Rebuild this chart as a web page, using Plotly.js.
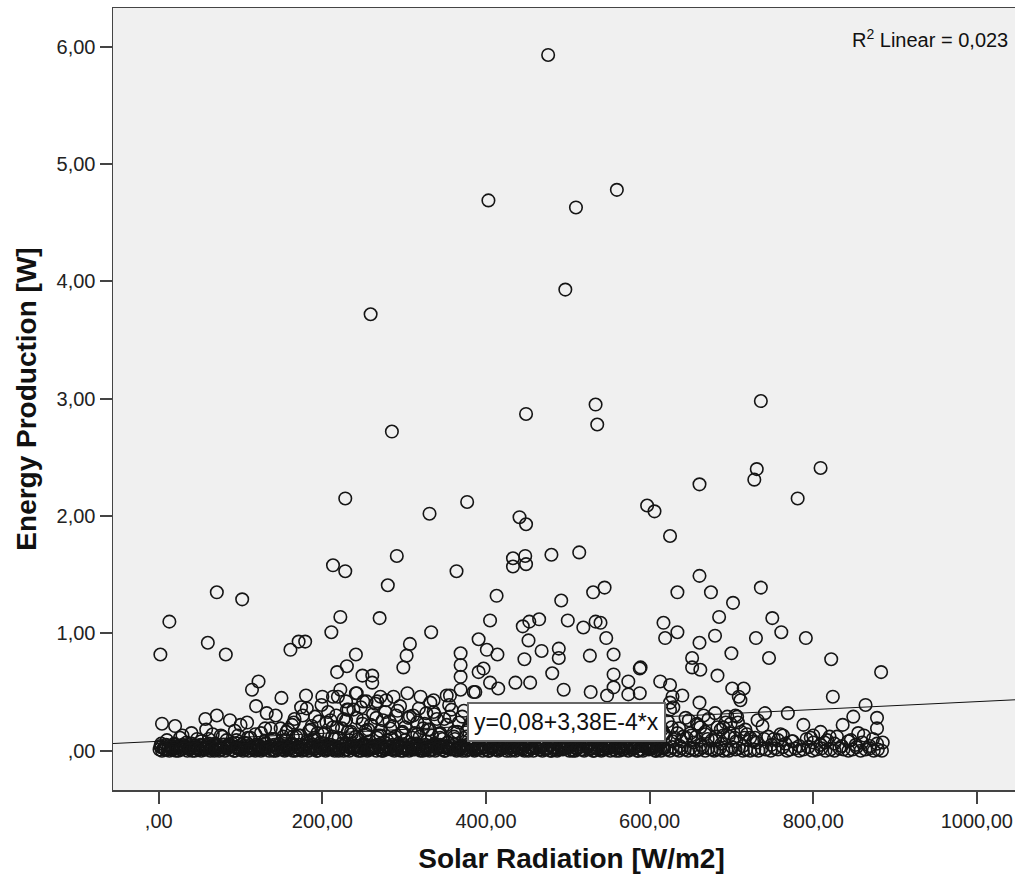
<!DOCTYPE html>
<html>
<head>
<meta charset="utf-8">
<script src="https://cdn.plot.ly/plotly-3.0.1.min.js"></script>
<style>
html,body{margin:0;padding:0;overflow:hidden;background:#fff;width:1015px;height:879px;}
#chart{width:1030px;height:879px;}
</style>
</head>
<body>
<div id="chart"></div>
<script>
// ---- Data (Solar Radiation [W/m2] vs Energy Production [W]) ----
const solarRadiation = [
476,560,403,510,497,259,736,534,449,536,285,809,731,728,661,781,228,377,331,441,
449,597,606,625,480,514,291,433,448,449,433,364,213,228,661,280,545,736,531,634,
675,71,413,102,492,702,222,270,685,750,465,453,13,405,500,534,540,617,445,519,
211,333,634,761,680,547,619,730,791,391,452,161,171,179,60,661,307,489,401,468,
2,82,241,414,556,369,700,303,527,652,746,489,447,822,369,230,299,589,652,397,
588,662,218,391,883,481,556,249,261,683,369,261,122,574,613,405,436,454,625,415,
701,715,114,222,495,369,528,387,556,241,304,588,574,548,180,356,640,150,200,213,
219,271,287,320,628,709,824,250,267,278,336,711,119,174,629,864,661,625,230,625,
132,143,741,769,680,705,336,57,71,87,108,4,20,29,165,191,210,229,250,266,
290,311,356,732,695,707,849,878,836,878,788,809,634,650,662,683,699,717,729,658,
100,130,149,885,242,254,332,352,385,232
];
const energyProduction = [
5.93,4.78,4.69,4.63,3.93,3.72,2.98,2.95,2.87,2.78,2.72,2.41,2.40,2.31,2.27,2.15,2.15,2.12,2.02,1.99,
1.93,2.09,2.04,1.83,1.67,1.69,1.66,1.64,1.66,1.59,1.57,1.53,1.58,1.53,1.49,1.41,1.39,1.39,1.35,1.35,
1.35,1.35,1.32,1.29,1.28,1.26,1.14,1.13,1.14,1.13,1.12,1.10,1.10,1.11,1.11,1.10,1.09,1.09,1.06,1.05,
1.01,1.01,1.01,1.01,0.98,0.96,0.96,0.96,0.96,0.95,0.94,0.86,0.93,0.93,0.92,0.92,0.91,0.87,0.86,0.85,
0.82,0.82,0.82,0.82,0.82,0.83,0.83,0.81,0.81,0.79,0.79,0.79,0.78,0.78,0.73,0.72,0.71,0.71,0.71,0.70,
0.70,0.69,0.67,0.67,0.67,0.66,0.65,0.64,0.64,0.64,0.63,0.58,0.59,0.59,0.59,0.58,0.58,0.58,0.56,0.53,
0.53,0.53,0.52,0.52,0.52,0.52,0.50,0.50,0.54,0.49,0.49,0.49,0.48,0.47,0.47,0.47,0.47,0.45,0.46,0.46,
0.46,0.46,0.46,0.46,0.46,0.46,0.46,0.42,0.42,0.43,0.43,0.43,0.38,0.37,0.37,0.39,0.41,0.41,0.35,0.35,
0.32,0.30,0.32,0.32,0.32,0.30,0.33,0.27,0.30,0.26,0.24,0.23,0.21,0.13,0.24,0.29,0.26,0.26,0.26,0.28,
0.30,0.30,0.29,0.26,0.29,0.29,0.29,0.28,0.22,0.19,0.22,0.16,0.15,0.15,0.20,0.20,0.23,0.18,0.11,0.23,
0.22,0.19,0.19,0.07,0.49,0.42,0.41,0.47,0.50,0.35
];

// dense band of near-zero production
const bandRadiation = [
1,4,7,11,13,17,20,24,27,31,35,38,41,45,49,52,56,59,63,67,
70,74,77,81,85,88,92,96,99,103,106,110,114,117,121,125,128,132,135,139,
143,146,150,154,157,161,164,168,172,175,179,183,186,190,193,197,201,204,208,212,
215,219,222,226,230,233,237,241,244,248,251,255,259,262,266,270,273,277,280,284,
288,291,295,299,302,306,309,313,317,320,324,328,331,335,338,342,346,349,353,357,
360,364,367,371,375,378,382,386,389,393,396,400,404,407,411,415,418,422,425,429,
433,436,440,444,447,451,454,458,462,465,469,473,476,480,483,487,491,494,498,502,
505,509,512,516,520,523,527,531,534,538,541,545,549,552,556,560,563,567,570,574,
578,581,585,589,592,596,599,603,607,610,614,618,621,625,628,632,636,639,643,647,
650,654,657,661,665,668,672,676,679,683,686,690,694,697,701,705,709,714,718,723,
728,733,737,742,748,753,757,763,768,772,778,783,788,794,799,804,810,815,821,826,
832,837,843,848,853,858,864,869,874,879,884
];
const bandEnergy = [
0.01,0.00,0.02,0.01,0.00,0.01,0.03,0.00,0.01,0.02,0.00,0.01,0.00,0.02,0.01,0.00,0.01,0.02,0.00,0.01,
0.02,0.00,0.01,0.00,0.03,0.01,0.00,0.02,0.01,0.00,0.01,0.00,0.02,0.01,0.03,0.00,0.01,0.02,0.00,0.01,
0.00,0.02,0.01,0.00,0.01,0.03,0.00,0.01,0.02,0.00,0.01,0.00,0.02,0.01,0.00,0.03,0.01,0.00,0.02,0.01,
0.00,0.01,0.02,0.00,0.01,0.00,0.03,0.01,0.00,0.02,0.01,0.00,0.01,0.02,0.00,0.01,0.00,0.02,0.03,0.01,
0.00,0.01,0.02,0.00,0.01,0.00,0.02,0.01,0.03,0.00,0.01,0.02,0.00,0.01,0.00,0.02,0.01,0.00,0.03,0.01,
0.02,0.00,0.01,0.00,0.02,0.01,0.03,0.00,0.01,0.02,0.00,0.01,0.00,0.02,0.01,0.00,0.01,0.03,0.00,0.02,
0.01,0.00,0.02,0.01,0.00,0.01,0.03,0.00,0.02,0.01,0.00,0.01,0.02,0.00,0.01,0.00,0.03,0.01,0.02,0.00,
0.01,0.00,0.02,0.01,0.00,0.03,0.01,0.00,0.02,0.01,0.00,0.01,0.02,0.00,0.01,0.03,0.00,0.01,0.02,0.00,
0.01,0.02,0.00,0.01,0.00,0.03,0.01,0.02,0.00,0.01,0.00,0.02,0.01,0.00,0.03,0.01,0.00,0.02,0.01,0.00,
0.02,0.01,0.00,0.01,0.03,0.00,0.02,0.01,0.00,0.01,0.02,0.00,0.01,0.00,0.03,0.01,0.02,0.00,0.01,0.00,
0.01,0.00,0.02,0.01,0.00,0.02,0.01,0.03,0.00,0.01,0.02,0.00,0.01,0.03,0.00,0.01,0.02,0.00,0.01,0.00,
0.02,0.01,0.00,0.01,0.03,0.00,0.01,0.02,0.00,0.01,0.00
];
const bandRadiation2 = [
2,6,9,15,19,22,26,29,33,37,40,43,47,51,54,58,61,65,69,72,
76,79,83,87,90,94,98,101,105,108,112,116,119,123,127,130,134,137,141,145,
148,152,156,159,163,166,170,174,177,181,185,188,192,195,199,203,206,210,214,217,
221,224,228,232,235,239,243,246,250,253,257,261,264,268,272,275,279,282,286,290,
293,297,301,304,308,311,315,319,322,326,330,333,337,340,344,348,351,355,359,362,
366,369,373,377,380,384,388,391,395,398,402,406,409,413,417,420,424,427,431,435,
438,442,446,449,453,456,460,464,467,471,475,478,482,485,489,493,496,500,504,507,
511,514,518,522,525,529,533,536,540,543,547,551,554,558,562,565,569,572,576,580,
583,587,591,594,598,601,605,609,612,616
];
const bandEnergy2 = [
0.04,0.02,0.05,0.03,0.06,0.02,0.04,0.05,0.03,0.02,0.06,0.04,0.03,0.05,0.02,0.04,0.06,0.03,0.05,0.02,
0.03,0.05,0.02,0.04,0.06,0.03,0.02,0.05,0.04,0.06,0.02,0.03,0.05,0.04,0.02,0.06,0.03,0.04,0.05,0.02,
0.05,0.03,0.04,0.02,0.06,0.05,0.03,0.02,0.04,0.06,0.03,0.05,0.02,0.04,0.03,0.06,0.02,0.05,0.04,0.03,
0.02,0.04,0.06,0.03,0.05,0.02,0.04,0.03,0.06,0.05,0.02,0.04,0.03,0.05,0.06,0.02,0.03,0.04,0.05,0.02,
0.06,0.03,0.04,0.02,0.05,0.03,0.06,0.04,0.02,0.05,0.03,0.04,0.06,0.02,0.05,0.03,0.04,0.02,0.06,0.05,
0.03,0.02,0.04,0.05,0.06,0.03,0.02,0.04,0.05,0.03,0.06,0.02,0.04,0.05,0.03,0.02,0.06,0.04,0.03,0.05,
0.02,0.04,0.06,0.05,0.03,0.02,0.04,0.06,0.03,0.05,0.02,0.04,0.03,0.06,0.05,0.02,0.04,0.03,0.05,0.06,
0.02,0.03,0.05,0.04,0.06,0.02,0.03,0.05,0.04,0.02,0.06,0.03,0.05,0.04,0.02,0.03,0.06,0.04,0.05,0.02,
0.03,0.05,0.04,0.06,0.02,0.04,0.03,0.05,0.06,0.02
];
const bandRadiation3 = [
3,8,12,16,21,25,28,32,36,39,44,48,53,57,60,64,68,71,75,80,
84,89,93,97,100,104,109,113,118,122,126,131,136,140,144,149,153,158,162,167,
171,176,180,184,189,194,198,202,207,211,216,220,225,229,234,238,242,247,252,256,
260,265,269,274,278,283,287,292,296,300,305,310,314,318,323,327,332,336,341,345,
350,354,358,363,368,372,376,381,385,390,394,399,403,408,412,416,421,426,430,434,
439,443,448,452,457,461,466,470,474,479,484,488,492,497,501,506,510,515,519,524,
528,532,537,542,546,550,555,559,564,568,573,577,582,586,590,595,600,604,608,613,617
];
const bandEnergy3 = [
0.03,0.01,0.04,0.02,0.00,0.03,0.01,0.04,0.02,0.03,0.00,0.02,0.04,0.01,0.03,0.02,0.00,0.04,0.01,0.03,
0.02,0.04,0.00,0.03,0.01,0.02,0.04,0.03,0.00,0.01,0.03,0.02,0.04,0.00,0.02,0.03,0.01,0.04,0.02,0.00,
0.03,0.01,0.04,0.02,0.03,0.00,0.02,0.04,0.01,0.03,0.02,0.00,0.04,0.01,0.03,0.02,0.04,0.00,0.03,0.01,
0.02,0.04,0.03,0.00,0.01,0.03,0.02,0.04,0.00,0.02,0.03,0.01,0.04,0.02,0.00,0.03,0.01,0.04,0.02,0.03,
0.00,0.02,0.04,0.01,0.03,0.02,0.00,0.04,0.01,0.03,0.02,0.04,0.00,0.03,0.01,0.02,0.04,0.03,0.00,0.01,
0.03,0.02,0.04,0.00,0.02,0.03,0.01,0.04,0.02,0.00,0.03,0.01,0.04,0.02,0.03,0.00,0.02,0.04,0.01,0.03,
0.02,0.00,0.04,0.01,0.03,0.02,0.04,0.00,0.03,0.01,0.02,0.04,0.03,0.00,0.01,0.03,0.02,0.04,0.00,0.02,0.03
];
const lowRadiation = [
3,10,19,26,34,44,52,61,69,78,86,95,104,112,121,129,138,147,155,164,
172,181,190,198,207,215,224,233,241,250,258,267,276,284,293,301,310,319,327,336,
344,353,362,370,379,387,396,405,413,422,430,439,448,456,465,473,482,491,499,508,
516,525,534,542,551,559,568,577,585,594,602,611,620,628,637,645,654,663,671,680,
688,697,706,714,723,731,740,749,757,766,774,783,792,800,809,817,826,835,843,852,
860,869,878,
40,58,76,93,118,137,156,171,186,203,218,236,253,271,283,298,316,329,344,361,
377,394,408,423,437,452,467,481,496,512,527,543,558,571,588,602,617,641,668,690,
712,745,760,800,820,855
];
const lowEnergy = [
0.06,0.09,0.05,0.11,0.07,0.04,0.08,0.10,0.06,0.12,0.05,0.09,0.07,0.11,0.04,0.08,0.10,0.06,0.09,0.12,
0.05,0.08,0.11,0.07,0.04,0.10,0.06,0.09,0.12,0.05,0.08,0.11,0.07,0.10,0.04,0.09,0.06,0.12,0.08,0.05,
0.11,0.07,0.10,0.04,0.09,0.06,0.12,0.08,0.05,0.11,0.07,0.10,0.06,0.09,0.04,0.12,0.08,0.05,0.11,0.07,
0.10,0.06,0.09,0.12,0.04,0.08,0.11,0.05,0.07,0.10,0.06,0.09,0.12,0.08,0.04,0.11,0.07,0.05,0.10,0.09,
0.06,0.12,0.08,0.04,0.11,0.07,0.10,0.05,0.09,0.06,0.08,0.04,0.10,0.07,0.05,0.09,0.06,0.04,0.08,0.05,
0.07,0.04,0.06,
0.15,0.18,0.13,0.17,0.14,0.19,0.16,0.13,0.18,0.15,0.20,0.14,0.17,0.13,0.19,0.16,0.14,0.18,0.15,0.12,
0.17,0.14,0.19,0.13,0.16,0.18,0.14,0.17,0.15,0.13,0.19,0.16,0.14,0.18,0.13,0.17,0.15,0.12,0.14,0.13,
0.16,0.12,0.14,0.13,0.12,0.15
];
const midRadiation = [
163,168,176,184,189,196,201,207,213,220,226,231,238,244,249,256,262,268,274,279,
286,292,297,305,310,316,323,327,334,340,347,352,358,365,371,376,383,389,395,401,
407,414,420,426,432,438,445,451,458,463,470,476,483,489,495,502,508,515,521,527,
533,539,546,552,558,565,571,578,584,590,596,603,609,615,
47,66,83,97,109,125,141,152,
627,639,648,657,666,676,687,693,704,719,727,738,752,763,775,797,814,829,846,862,873,
158,166,173,181,187,194,199,205,212,217,224,229,235,242,247,253,259,265,271,277,
282,289,295,301,307,313,318,325,331,337,343,349,355,361,367,373,379,
618,622,631,636,644,651,659,668,672,681,690,698,708,716
];
const midEnergy = [
0.22,0.12,0.30,0.17,0.09,0.25,0.14,0.33,0.20,0.11,0.27,0.16,0.35,0.10,0.23,0.18,0.31,0.13,0.26,0.09,
0.21,0.34,0.15,0.28,0.11,0.24,0.19,0.32,0.13,0.27,0.10,0.22,0.35,0.16,0.29,0.12,0.25,0.18,0.33,0.09,
0.23,0.14,0.30,0.20,0.11,0.27,0.17,0.34,0.13,0.24,0.10,0.29,0.19,0.32,0.15,0.26,0.12,0.22,0.35,0.18,
0.09,0.28,0.14,0.31,0.20,0.11,0.25,0.16,0.33,0.13,0.23,0.10,0.29,0.18,
0.10,0.14,0.09,0.13,0.11,0.15,0.10,0.12,
0.20,0.08,0.26,0.12,0.30,0.09,0.18,0.24,0.11,0.14,0.08,0.21,0.10,0.13,0.08,0.11,0.07,0.12,0.09,0.13,0.10,
0.18,0.27,0.13,0.36,0.21,0.15,0.39,0.24,0.12,0.30,0.19,0.42,0.16,0.28,0.37,0.14,0.22,0.40,0.17,0.33,
0.25,0.12,0.38,0.20,0.29,0.15,0.36,0.23,0.18,0.31,0.14,0.27,0.39,0.16,0.24,0.34,0.20,
0.14,0.25,0.11,0.19,0.28,0.13,0.22,0.16,0.27,0.12,0.20,0.15,0.24,0.11
];

// fit line (SPSS linear fit)
const fitIntercept = 0.08;
const fitSlope = 3.38e-4;
const fitLabel = "y=0,08+3,38E-4*x";
const r2Label = "R<sup>2</sup> Linear = 0,023";

const xTickVals = [0,200,400,600,800,1000];
const xTickText = [",00","200,00","400,00","600,00","800,00","1000,00"];
const yTickVals = [0,1,2,3,4,5,6];
const yTickText = [",00","1,00","2,00","3,00","4,00","5,00","6,00"];

const xRange = [-55.9, 1065];
const yRange = [-0.335, 6.33];

const allX = solarRadiation.concat(midRadiation, lowRadiation, bandRadiation3, bandRadiation2, bandRadiation);
const allY = energyProduction.concat(midEnergy, lowEnergy, bandEnergy3, bandEnergy2, bandEnergy);

const fitX = [xRange[0], xRange[1]];
const fitY = fitX.map(v => fitIntercept + fitSlope * v);

const FONT = "Arial, 'Liberation Sans', sans-serif";

const traces = [
  {
    x: fitX, y: fitY, type: 'scatter', mode: 'lines',
    line: {color: '#111', width: 1}, hoverinfo: 'skip', showlegend: false
  },
  {
    x: allX, y: allY, type: 'scatter', mode: 'markers',
    marker: {symbol: 'circle-open', size: 12.5, color: '#151515', line: {width: 1.6, color: '#151515'}},
    showlegend: false
  }
];

const layout = {
  width: 1030, height: 879,
  margin: {l: 113, r: 0, t: 8, b: 89},
  paper_bgcolor: '#ffffff',
  plot_bgcolor: '#f0f0f0',
  font: {family: FONT, size: 20, color: '#222'},
  showlegend: false,
  xaxis: {
    range: xRange, showgrid: false, zeroline: false,
    showline: true, mirror: true, linecolor: '#444', linewidth: 1.5,
    ticks: 'outside', ticklen: 12, tickwidth: 2, tickcolor: '#444',
    tickvals: xTickVals, ticktext: xTickText,
    tickfont: {family: FONT, size: 20, color: '#222'},
    title: {text: 'Solar Radiation [W/m2]', font: {family: FONT, size: 28, color: '#111', weight: 'bold'}, standoff: 18}
  },
  yaxis: {
    range: yRange, showgrid: false, zeroline: false,
    showline: true, mirror: true, linecolor: '#444', linewidth: 1.5,
    ticks: 'outside', ticklen: 12, tickwidth: 2, tickcolor: '#444',
    tickvals: yTickVals, ticktext: yTickText,
    tickfont: {family: FONT, size: 20, color: '#222'},
    title: {text: 'Energy Production [W]', font: {family: FONT, size: 28, color: '#111', weight: 'bold'}, standoff: 12}
  },
  annotations: [
    {
      x: 498.5, y: 0.245, xref: 'x', yref: 'y', text: fitLabel, showarrow: false,
      font: {family: FONT, size: 23, color: '#111'},
      bgcolor: '#ffffff', bordercolor: '#666', borderwidth: 2, borderpad: 5
    },
    {
      x: 1040.7, y: 6.066, xref: 'x', yref: 'y', xanchor: 'right', text: r2Label, showarrow: false,
      font: {family: FONT, size: 20, color: '#111'}
    }
  ]
};

Plotly.newPlot('chart', traces, layout, {staticPlot: true, displayModeBar: false});
</script>
</body>
</html>
